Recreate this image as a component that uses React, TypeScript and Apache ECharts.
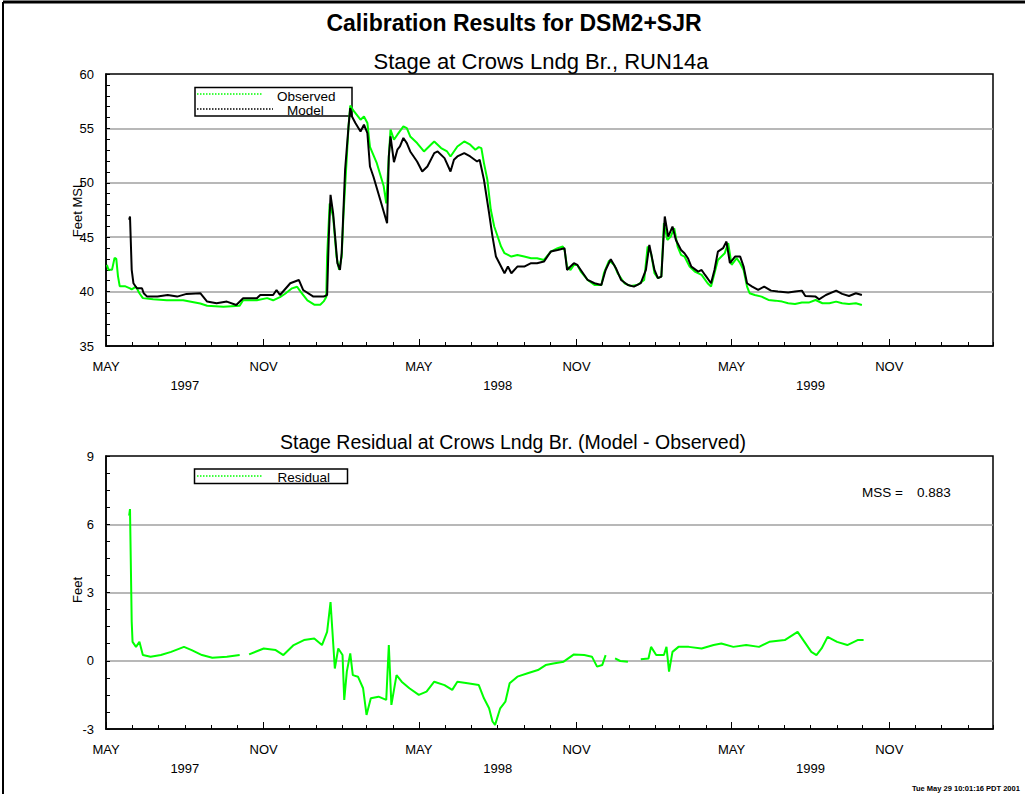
import { useEffect, useRef } from 'react';
import * as echarts from 'echarts';

const FONT = '"Liberation Sans", Arial, sans-serif';

const observedDates = [
  '1997-05-02','1997-05-04','1997-05-08','1997-05-11','1997-05-13','1997-05-15','1997-05-17','1997-05-23','1997-05-29','1997-05-31',
  '1997-06-05','1997-06-09','1997-06-13','1997-06-25','1997-07-11','1997-07-30','1997-08-19','1997-08-27','1997-09-15','1997-10-04',
  '1997-10-08','1997-10-24','1997-11-05','1997-11-12','1997-11-20','1997-11-26','1997-12-04','1997-12-10','1997-12-14','1997-12-22',
  '1997-12-30','1998-01-06','1998-01-10','1998-01-13','1998-01-14','1998-01-17','1998-01-21','1998-01-25','1998-01-28','1998-01-31',
  '1998-02-02','1998-02-06','1998-02-08','1998-02-10','1998-02-14','1998-02-22','1998-02-26','1998-03-02','1998-03-05','1998-03-13',
  '1998-03-21','1998-03-24','1998-03-27','1998-03-29','1998-04-02','1998-04-06','1998-04-13','1998-04-17','1998-04-21','1998-04-29',
  '1998-05-07','1998-05-15','1998-05-19','1998-05-27','1998-06-03','1998-06-07','1998-06-15','1998-06-23','1998-06-30','1998-07-06',
  '1998-07-10','1998-07-13','1998-07-16','1998-07-20','1998-07-24','1998-07-28','1998-08-01','1998-08-05','1998-08-09','1998-08-17',
  '1998-08-24','1998-09-01','1998-09-09','1998-09-16','1998-09-24','1998-10-02','1998-10-10','1998-10-16','1998-10-18','1998-10-21',
  '1998-10-25','1998-10-29','1998-11-02','1998-11-06','1998-11-14','1998-11-22','1998-11-30','1998-12-03','1998-12-09','1998-12-15',
  '1998-12-19','1998-12-27','1999-01-03','1999-01-11','1999-01-19','1999-01-23','1999-01-27','1999-01-31','1999-02-04','1999-02-08',
  '1999-02-11','1999-02-15','1999-02-19','1999-02-23','1999-02-27','1999-03-03','1999-03-07','1999-03-11','1999-03-13','1999-03-19',
  '1999-03-27','1999-04-03','1999-04-07','1999-04-11','1999-04-15','1999-04-23','1999-04-27','1999-05-01','1999-05-07','1999-05-11',
  '1999-05-15','1999-05-19','1999-05-22','1999-05-28','1999-06-05','1999-06-13','1999-06-21','1999-06-29','1999-07-06','1999-07-14',
  '1999-07-22','1999-07-30','1999-08-07','1999-08-15','1999-08-23','1999-08-31','1999-09-07','1999-09-15','1999-09-23','1999-09-30'
];
const observedStage = [
  42.45,42.0,42.0,43.1,43.0,41.4,40.5,40.5,40.3,40.2,
  40.45,39.85,39.4,39.3,39.2,39.2,38.9,38.7,38.6,38.7,
  39.2,39.2,39.4,39.2,39.5,39.8,40.3,40.45,40.0,39.2,
  38.8,38.8,39.1,39.5,43.2,48.1,46.9,43.2,42.0,43.2,
  46.9,52.4,55.2,57.1,56.6,55.8,56.1,55.5,53.3,51.8,
  49.7,48.1,52.4,54.9,53.96,54.42,55.18,55.03,54.26,53.65,
  52.88,53.5,53.8,53.19,52.88,52.42,53.34,53.8,53.5,53.04,
  53.28,53.19,51.81,50.28,47.52,45.98,45.06,44.14,43.53,43.22,
  43.37,43.22,43.07,43.07,42.91,43.68,43.99,44.14,43.83,42.3,
  41.99,42.45,42.45,41.84,41.07,40.61,40.61,41.69,42.85,42.45,
  41.69,40.77,40.52,40.61,41.07,44.14,43.53,41.69,41.23,41.38,
  46.29,44.75,45.06,45.83,44.14,43.37,43.22,42.61,42.3,41.84,
  41.53,40.77,40.46,41.69,42.91,43.53,44.45,42.45,43.07,42.61,
  41.99,40.46,39.85,39.69,39.54,39.23,39.17,39.08,38.93,38.87,
  38.99,38.99,39.23,38.93,38.93,39.08,38.93,38.87,38.93,38.77
];

const modelDates = [
  '1997-05-28','1997-05-29','1997-05-31','1997-06-02','1997-06-06','1997-06-12','1997-06-14','1997-06-18','1997-06-30','1997-07-12',
  '1997-07-23','1997-08-03','1997-08-19','1997-08-27','1997-09-07','1997-09-19','1997-09-30','1997-10-08','1997-10-24','1997-10-28',
  '1997-11-12','1997-11-16','1997-11-20','1997-12-02','1997-12-12','1997-12-17','1997-12-29','1998-01-10','1998-01-14','1998-01-16',
  '1998-01-18','1998-01-21','1998-01-26','1998-01-29','1998-01-31','1998-02-04','1998-02-08','1998-02-10','1998-02-12','1998-02-16',
  '1998-02-22','1998-02-26','1998-03-02','1998-03-05','1998-03-09','1998-03-17','1998-03-25','1998-03-27','1998-03-29','1998-04-02',
  '1998-04-06','1998-04-09','1998-04-13','1998-04-17','1998-04-21','1998-04-29','1998-05-05','1998-05-11','1998-05-19','1998-05-23',
  '1998-05-31','1998-06-07','1998-06-11','1998-06-15','1998-06-23','1998-06-30','1998-07-08','1998-07-11','1998-07-16','1998-07-22',
  '1998-07-26','1998-07-30','1998-08-05','1998-08-09','1998-08-13','1998-08-17','1998-08-24','1998-09-01','1998-09-09','1998-09-16',
  '1998-09-24','1998-10-02','1998-10-10','1998-10-18','1998-10-21','1998-10-25','1998-10-29','1998-11-02','1998-11-06','1998-11-14',
  '1998-11-22','1998-11-30','1998-12-05','1998-12-11','1998-12-17','1998-12-23','1998-12-31','1999-01-07','1999-01-15','1999-01-21',
  '1999-01-25','1999-01-31','1999-02-04','1999-02-08','1999-02-12','1999-02-16','1999-02-21','1999-02-25','1999-03-03','1999-03-07',
  '1999-03-11','1999-03-15','1999-03-23','1999-03-27','1999-03-31','1999-04-07','1999-04-11','1999-04-15','1999-04-21','1999-04-25',
  '1999-04-29','1999-05-05','1999-05-11','1999-05-15','1999-05-19','1999-05-25','1999-06-01','1999-06-08','1999-06-16','1999-06-24',
  '1999-07-06','1999-07-14','1999-07-22','1999-07-26','1999-08-07','1999-08-11','1999-08-19','1999-08-31','1999-09-07','1999-09-15',
  '1999-09-23','1999-09-30'
];
const modelStage = [
  46.6,46.9,42.0,40.77,40.31,40.31,39.85,39.54,39.54,39.69,
  39.54,39.79,39.85,39.08,38.93,39.08,38.77,39.39,39.39,39.69,
  39.69,40.15,39.69,40.77,41.07,40.15,39.54,39.54,39.69,45.06,
  48.9,47.21,42.61,41.99,43.53,51.2,55.18,56.87,56.1,55.49,
  54.72,55.34,54.57,51.5,50.58,48.44,46.29,52.42,54.26,51.9,
  53.04,53.34,54.12,53.65,52.88,51.96,51.04,51.5,52.73,52.88,
  52.27,51.04,52.12,52.42,52.73,52.42,51.96,52.12,50.28,47.21,
  45.06,43.22,42.3,41.69,42.3,41.69,42.3,42.3,42.61,42.61,
  42.76,43.68,43.83,43.99,41.99,42.3,42.61,42.45,41.99,41.07,
  40.77,40.61,41.99,42.98,42.15,41.07,40.61,40.46,40.77,41.99,
  44.29,41.99,41.23,41.38,46.9,45.06,45.98,44.75,43.83,43.53,
  43.07,42.3,41.84,41.99,41.53,40.77,41.99,43.68,43.99,44.6,
  42.61,43.22,43.22,42.3,40.77,40.46,40.15,40.46,40.09,40.0,
  39.91,40.0,40.09,39.6,39.54,39.29,39.69,40.09,39.79,39.6,
  39.85,39.69
];

const residualDates = [
  '1997-05-28','1997-05-29','1997-05-31','1997-06-01','1997-06-05','1997-06-09','1997-06-13','1997-06-22','1997-07-04','1997-07-16',
  '1997-07-31','1997-08-09','1997-08-21','1997-09-02','1997-09-19','1997-10-04','1997-10-10','1997-10-15','1997-11-01','1997-11-15',
  '1997-11-24','1997-12-06','1997-12-18','1997-12-30','1998-01-08','1998-01-14','1998-01-18','1998-01-20','1998-01-23','1998-01-27',
  '1998-02-01','1998-02-03','1998-02-06','1998-02-10','1998-02-13','1998-02-19','1998-02-25','1998-03-01','1998-03-06','1998-03-15',
  '1998-03-24','1998-03-27','1998-03-30','1998-04-05','1998-04-11','1998-04-20','1998-05-01','1998-05-10','1998-05-19','1998-05-31',
  '1998-06-09','1998-06-15','1998-06-27','1998-07-10','1998-07-16','1998-07-22','1998-07-26','1998-07-29','1998-08-04','1998-08-10',
  '1998-08-15','1998-08-24','1998-09-05','1998-09-17','1998-09-26','1998-10-05','1998-10-17','1998-10-29','1998-11-10','1998-11-19',
  '1998-11-25','1998-12-01','1998-12-05','1998-12-10','1998-12-16','1998-12-22','1998-12-31','1999-01-07','1999-01-15','1999-01-24',
  '1999-01-27','1999-02-02','1999-02-11','1999-02-14','1999-02-17','1999-02-21','1999-02-28','1999-03-12','1999-03-27','1999-04-10',
  '1999-04-19','1999-05-03','1999-05-18','1999-06-02','1999-06-14','1999-07-02','1999-07-17','1999-07-25','1999-08-02','1999-08-08',
  '1999-08-14','1999-08-21','1999-09-01','1999-09-13','1999-09-25','1999-10-02'
];
const residualFeet: (number | null)[] = [
  6.38,6.67,1.71,0.83,0.61,0.83,0.25,0.18,0.25,0.39,
  0.61,0.47,0.25,0.13,0.18,0.25,null,0.28,0.54,0.47,
  0.25,0.69,0.91,0.98,0.69,1.27,2.58,1.42,-0.34,0.54,
  0.25,-1.72,-0.48,0.32,-0.63,-0.70,-1.21,-2.38,-1.65,-1.58,
  -1.72,0.69,-1.94,-0.63,-0.92,-1.21,-1.50,-1.36,-0.92,-1.07,
  -1.28,-0.92,-0.99,-1.07,-1.65,-2.09,-2.67,-2.82,-2.09,-1.80,
  -0.99,-0.70,-0.55,-0.41,-0.19,-0.12,-0.04,0.28,0.25,0.18,
  -0.26,-0.19,0.25,null,0.10,-0.01,-0.04,null,0.07,0.10,
  0.61,0.25,0.25,0.61,-0.48,0.39,0.61,0.61,0.54,0.69,
  0.76,0.61,0.69,0.61,0.83,0.91,1.27,0.83,0.39,0.25,
  0.54,1.05,0.83,0.69,0.91,0.91
];

const monthNames = ['JAN','FEB','MAR','APR','MAY','JUN','JUL','AUG','SEP','OCT','NOV','DEC'];
const labelMonths = ['1997-05-01','1997-11-01','1998-05-01','1998-11-01','1999-05-01','1999-11-01'];
const yearLabelDates = ['1997-08-01','1998-08-01','1999-08-01'];
const axisStart = '1997-05-01';
const axisEnd = '2000-03-01';

const toTime = (s: string) => {
  const [y, m, d] = s.split('-').map(Number);
  return new Date(y, m - 1, d).getTime();
};

const monthTicks = (() => {
  const out: number[] = [];
  const end = toTime(axisEnd);
  let y = 1997, m = 4;
  for (;;) {
    const t = new Date(y, m, 1).getTime();
    if (t > end) break;
    out.push(t);
    m++;
    if (m > 11) { m = 0; y++; }
  }
  return out;
})();

const pairs = (dates: string[], vals: (number | null)[]) => dates.map((d, i) => [toTime(d), vals[i]]);

function xAxes(gridIndex: number) {
  const common = {
    type: 'value' as const,
    gridIndex,
    min: toTime(axisStart),
    max: toTime(axisEnd),
    position: 'bottom' as const,
    splitLine: { show: false },
  };
  return [
    {
      ...common,
      axisLine: { show: true, onZero: false, lineStyle: { color: '#000', width: 1.5 } },
      axisTick: { show: true, inside: true, length: 4, customValues: monthTicks, lineStyle: { color: '#000', width: 1 } },
      axisLabel: {
        show: true,
        customValues: labelMonths.map(toTime),
        formatter: (v: number) => monthNames[new Date(v).getMonth()],
        color: '#000', fontSize: 13, fontFamily: FONT, margin: 14, hideOverlap: false,
      },
    },
    {
      ...common,
      axisLine: { show: false, onZero: false },
      axisTick: { show: true, inside: true, length: 7, customValues: labelMonths.map(toTime), lineStyle: { color: '#000', width: 1 } },
      axisLabel: {
        show: true,
        customValues: yearLabelDates.map(toTime),
        formatter: (v: number) => String(new Date(v).getFullYear()),
        color: '#000', fontSize: 13, fontFamily: FONT, margin: 33, hideOverlap: false,
      },
    },
  ];
}

function yAxis(gridIndex: number, min: number, max: number, interval: number, minorSplit: number) {
  return {
    type: 'value' as const,
    gridIndex,
    min, max, interval,
    axisLine: { show: true, lineStyle: { color: '#000', width: 1.5 } },
    axisTick: { show: true, inside: true, length: 4, lineStyle: { color: '#000' } },
    minorTick: { show: true, splitNumber: minorSplit, length: 4, lineStyle: { color: '#000' } },
    axisLabel: { color: '#000', fontSize: 13, fontFamily: FONT, margin: 12 },
    splitLine: { show: true, showMinLine: false, showMaxLine: false, lineStyle: { color: '#a0a0a0', width: 1.5 } },
  };
}

const txt = (text: string, x: number, y: number, size: number, extra: any = {}) => ({
  type: 'text', x, y, ...extra,
  style: { text, fill: '#000', fontSize: size, fontFamily: FONT, align: 'left', verticalAlign: 'middle', ...(extra.style || {}) },
});

export default function App() {
  const ref = useRef<HTMLDivElement>(null);
  useEffect(() => {
    if (!ref.current) return;
    const chart = echarts.init(ref.current, undefined, { renderer: 'svg' });
    const option: any = {
      animation: false,
      backgroundColor: '#fff',
      grid: [
        { left: 106, top: 74, width: 887, height: 272, show: true, borderColor: '#000', borderWidth: 1.5, backgroundColor: 'transparent' },
        { left: 106, top: 456, width: 887, height: 273, show: true, borderColor: '#000', borderWidth: 1.5, backgroundColor: 'transparent' },
      ],
      xAxis: [...xAxes(0), ...xAxes(1)],
      yAxis: [yAxis(0, 35, 60, 5, 5), yAxis(1, -3, 9, 3, 4)],
      series: [
        {
          name: 'Observed', type: 'line', xAxisIndex: 0, yAxisIndex: 0, showSymbol: false, symbol: 'none',
          lineStyle: { color: '#00ff00', width: 2 }, data: pairs(observedDates, observedStage), z: 3,
        },
        {
          name: 'Model', type: 'line', xAxisIndex: 0, yAxisIndex: 0, showSymbol: false, symbol: 'none',
          lineStyle: { color: '#000', width: 2 }, data: pairs(modelDates, modelStage), z: 4,
        },
        {
          name: 'Residual', type: 'line', xAxisIndex: 2, yAxisIndex: 1, showSymbol: false, symbol: 'none',
          connectNulls: false,
          lineStyle: { color: '#00ff00', width: 2 }, data: pairs(residualDates, residualFeet), z: 3,
        },
      ],
      graphic: [
        { type: 'line', shape: { x1: 3, y1: 2, x2: 1025, y2: 2 }, style: { stroke: '#000', lineWidth: 3 } },
        { type: 'line', shape: { x1: 3, y1: 2, x2: 3, y2: 794 }, style: { stroke: '#000', lineWidth: 2 } },
        txt('Calibration Results for DSM2+SJR', 514, 22.5, 23, { style: { align: 'center', fontWeight: 'bold' } }),
        txt('Stage at Crows Lndg Br., RUN14a', 541, 61.5, 22, { style: { align: 'center' } }),
        txt('Stage Residual at Crows Lndg Br. (Model - Observed)', 513, 442, 19.5, { style: { align: 'center' } }),
        txt('Feet MSL', 77, 209, 13, { rotation: Math.PI / 2, style: { align: 'center' } }),
        txt('Feet', 77, 590, 13, { rotation: Math.PI / 2, style: { align: 'center' } }),
        { type: 'rect', shape: { x: 195, y: 87.5, width: 157, height: 28.5 }, style: { fill: '#fff', stroke: '#000', lineWidth: 1.5 }, z: 1 },
        { type: 'line', shape: { x1: 197, y1: 94, x2: 262, y2: 94 }, style: { stroke: '#00ff00', lineWidth: 1.5, lineDash: [1.5, 1.5] }, z: 1 },
        { type: 'line', shape: { x1: 197, y1: 109, x2: 273, y2: 109 }, style: { stroke: '#000', lineWidth: 1.5, lineDash: [1.5, 1.5] }, z: 1 },
        txt('Observed', 277, 96.5, 13.5, { z: 1 }),
        txt('Model', 287, 110.5, 13.5, { z: 1 }),
        { type: 'rect', shape: { x: 194.5, y: 469, width: 153, height: 14.5 }, style: { fill: '#fff', stroke: '#000', lineWidth: 1.5 }, z: 1 },
        { type: 'line', shape: { x1: 197, y1: 476, x2: 263, y2: 476 }, style: { stroke: '#00ff00', lineWidth: 1.5, lineDash: [1.5, 1.5] }, z: 1 },
        txt('Residual', 277.5, 477.5, 13.5, { z: 1 }),
        txt('MSS =', 862, 492, 13.5),
        txt('0.883', 917, 492, 13.5),
        txt('Tue May 29 10:01:16 PDT 2001', 912, 788, 7.5, { style: { fontWeight: 'bold' } }),
      ],
    };
    chart.setOption(option);
    return () => chart.dispose();
  }, []);
  return <div ref={ref} style={{ position: 'absolute', left: 0, top: 0, width: 1025, height: 794 }} />;
}
